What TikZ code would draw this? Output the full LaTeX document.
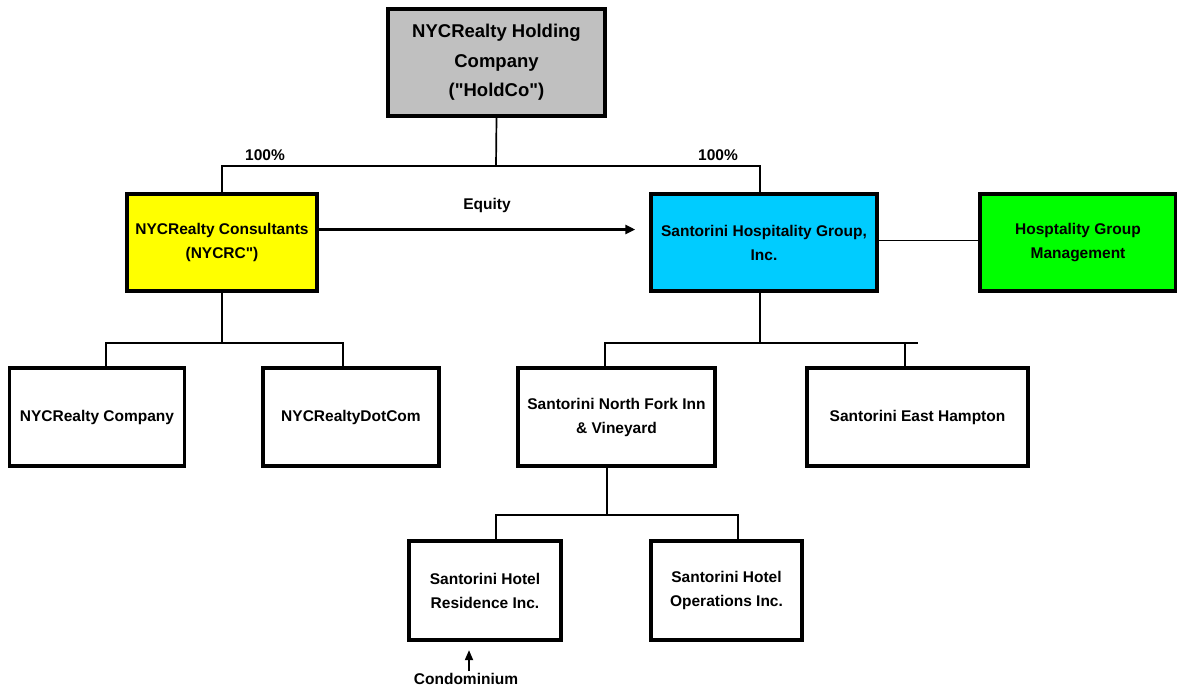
\documentclass[tikz,border=0pt]{standalone}
\usepackage{fontspec}
\setmainfont{Liberation Sans}
\usetikzlibrary{arrows.meta}
\begin{document}
\begin{tikzpicture}[x=1pt,y=-1pt,
  box/.style={draw=black,line width=3.5pt,rectangle,align=center,inner sep=0pt,
    font=\fontsize{15.5}{24}\selectfont\bfseries},
  conn/.style={line width=1.7pt},
  lbl/.style={font=\fontsize{15.5}{18}\selectfont\bfseries,inner sep=1pt},
  tip/.style={-{Triangle[length=10pt,width=9pt]}}
]
\useasboundingbox (0,0) rectangle (1177,688);
\definecolor{hgray}{RGB}{192,192,192}
\definecolor{hyellow}{RGB}{255,255,0}
\definecolor{hblue}{RGB}{0,204,255}
\definecolor{hgreen}{RGB}{0,255,0}

\node[box,fill=hgray,minimum width=217,minimum height=107,
  font=\fontsize{18.5}{29.5}\selectfont\bfseries] (hold) at (496.5,62.5)
  {NYCRealty Holding\\Company\\(\textquotedbl HoldCo\textquotedbl)};

\node[box,fill=hyellow,minimum width=190,minimum height=97] (cons) at (222,242.5)
  {NYCRealty Consultants\\(NYCRC\textquotedbl)};
\node[box,fill=hblue,minimum width=226,minimum height=97] (shg) at (764,242.5)
  {Santorini Hospitality Group,\\Inc.};
\node[box,fill=hgreen,minimum width=196,minimum height=97] (hgm) at (1078,242.5)
  {Hosptality Group\\Management};

\node[box,minimum width=175,minimum height=98] (nyc) at (97,417) {NYCRealty Company};
\node[box,minimum width=176,minimum height=98] (dot) at (351,417) {NYCRealtyDotCom};
\node[box,minimum width=197,minimum height=98] (nf) at (616.5,417)
  {Santorini North Fork Inn\\\& Vineyard};
\node[box,minimum width=221,minimum height=98] (eh) at (917.5,417) {Santorini East Hampton};

\node[box,minimum width=152,minimum height=99] (res) at (485,590.5)
  {Santorini Hotel\\Residence Inc.};
\node[box,minimum width=151,minimum height=99] (ops) at (726.5,590.5)
  {Santorini Hotel\\Operations Inc.};

% top level bus
\coordinate (bus1) at (496,166);
\draw[conn] (hold.south) -- (bus1);
\draw[conn] (cons.north) |- (bus1) -| ([xshift=-4pt]shg.north);
\node[lbl] (p1) at (265,155) {100\%};
\node[lbl] (p2) at (718,155) {100\%};

% equity arrow
\draw[line width=3pt,tip] ([yshift=13pt]cons.east) -- ([xshift=-14pt,yshift=13pt]shg.west);
\node[lbl] (eq) at (487,205) {Equity};

% shg to management
\draw[conn] ([yshift=2pt]shg.east) -- ([yshift=2pt]hgm.west);

% consultants subsidiaries
\coordinate (bus2) at (222,343);
\draw[conn] (cons.south) -- (bus2);
\draw[conn] ([xshift=9pt]nyc.north) |- (bus2) -| ([xshift=-8pt]dot.north);

% shg subsidiaries
\coordinate (bus3) at (760,343);
\coordinate (bus3end) at (918,343);
\draw[conn] ([xshift=-4pt]shg.south) -- (bus3);
\draw[conn] ([xshift=-11.5pt]nf.north) |- (bus3end);
\draw[conn] ([xshift=-12.5pt]eh.north) -- ([xshift=-12.5pt]eh.north |- bus3);

% north fork subsidiaries
\coordinate (bus4) at (607,515);
\draw[conn] ([xshift=-9.5pt]nf.south) -- (bus4);
\draw[conn] ([xshift=11pt]res.north) |- (bus4) -| ([xshift=11.5pt]ops.north);

% condominium
\node[lbl] (condo) at (466,679) {Condominium};
\draw[line width=1.8pt,-{Triangle[length=10pt,width=8pt]}] ([xshift=3pt,yshift=1pt]condo.north) -- ++(0,-21);
\end{tikzpicture}
\end{document}
